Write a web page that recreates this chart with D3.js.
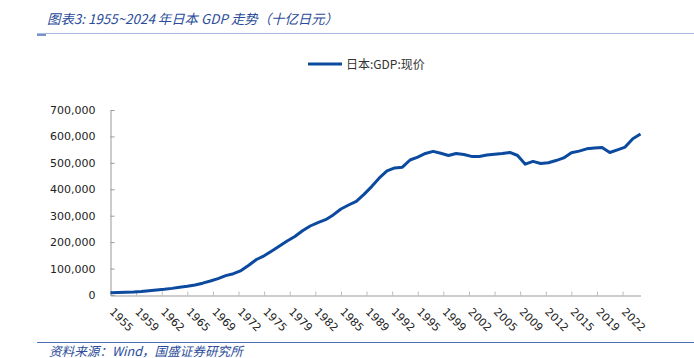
<!DOCTYPE html>
<html>
<head>
<meta charset="utf-8">
<script src="https://cdn.jsdelivr.net/npm/d3@7/dist/d3.min.js"></script>
<style>
  html, body { margin: 0; padding: 0; background: #fff; }
  svg { display: block; }
</style>
</head>
<body>
<svg id="chart" width="694" height="358"></svg>
<script>
// ---- data (billion yen, nominal GDP) ----
const years = d3.range(1955, 2025);
const gdp = [
  8370, 9422, 10858, 11522, 12996, 16010, 19337, 21627, 25059, 29541,
  32866, 38170, 44731, 52775, 62066, 73345, 80701, 92394, 112498, 134244,
  148327, 166573, 185622, 204404, 221547, 242839, 261068, 274087, 285058, 302975,
  325402, 340560, 354170, 380743, 410122, 442781, 469422, 480783, 483712, 510916,
  521614, 535562, 543545, 536497, 528070, 535418, 531654, 524479, 523969, 529401,
  532516, 535170, 539282, 527824, 494938, 505531, 497449, 500475, 508701, 518811,
  538032, 544365, 553073, 556630, 557911, 539082, 549379, 559710, 591482, 609289
];
const yTicks = [0, 100000, 200000, 300000, 400000, 500000, 600000, 700000];
const seriesName = "日本:GDP:现价";
const titleText = "图表3:  1955~2024 年日本 GDP 走势（十亿日元）";
const sourceText = "资料来源：Wind，国盛证券研究所";

// x tick dates: every 40 months starting Dec 1955
const xTickDates = d3.range(21).map(k => {
  const m = 11 + 40 * k;
  return new Date(1955 + Math.floor(m / 12), (m % 12) + 1, 0);
});

const data = years.map((y, i) => ({ date: new Date(y, 11, 31), value: gdp[i] }));

const svg = d3.select("#chart");
const blue = "#0B4A9E";
const axisFont = "'DejaVu Sans', Verdana, sans-serif";
const cjkFont = "'Noto Sans CJK SC', 'Noto Sans', sans-serif";

const x = d3.scaleTime()
  .domain([new Date(1955, 11, 31), new Date(2024, 11, 31)])
  .range([110.5, 640.5]);
const y = d3.scaleLinear().domain([0, 700000]).range([295, 110]);

// title
svg.append("text")
  .attr("x", 47).attr("y", 23.5)
  .attr("font-family", cjkFont)
  .attr("font-style", "italic")
  .attr("font-size", 13.4)
  .attr("fill", "#2A4C9A")
  .text(titleText);
svg.append("line").attr("x1", 37).attr("x2", 694).attr("y1", 33.5).attr("y2", 33.5)
  .attr("stroke", "#A9BCE0").attr("stroke-width", 1);
svg.append("line").attr("x1", 37).attr("x2", 46).attr("y1", 35).attr("y2", 35)
  .attr("stroke", "#4A6FB5").attr("stroke-width", 1.5);

// legend
svg.append("line").attr("x1", 308).attr("x2", 342).attr("y1", 64).attr("y2", 64)
  .attr("stroke", blue).attr("stroke-width", 3);
svg.append("text").attr("x", 346).attr("y", 68.5)
  .attr("font-family", cjkFont).attr("font-size", 12).attr("fill", "#333")
  .text(seriesName);

// y axis
const yAxis = d3.axisLeft(y).tickValues(yTicks).tickFormat(d3.format(","))
  .tickSizeInner(-4).tickSizeOuter(0).tickPadding(15);
const gy = svg.append("g").attr("transform", "translate(110.5,0)").call(yAxis);
gy.select(".domain").attr("stroke", "#999");
gy.selectAll(".tick line").attr("stroke", "#999");
gy.selectAll(".tick text").attr("font-family", axisFont).attr("font-size", 11).attr("fill", "#222");

// x axis
const xAxis = d3.axisBottom(x).tickValues(xTickDates).tickFormat(d3.timeFormat("%Y"))
  .tickSizeInner(-4).tickSizeOuter(0).tickPadding(0);
const gx = svg.append("g").attr("transform", "translate(0,295.5)").call(xAxis);
gx.select(".domain").attr("stroke", "#999");
gx.selectAll(".tick line").attr("stroke", "#bbb");
gx.selectAll(".tick text")
  .attr("font-family", axisFont).attr("font-size", 11).attr("fill", "#222")
  .attr("text-anchor", "start")
  .attr("y", 0).attr("dy", 0)
  .attr("transform", "translate(-2,17) rotate(45)");

// line
const line = d3.line().x(d => x(d.date)).y(d => y(d.value));
svg.append("path").datum(data)
  .attr("fill", "none").attr("stroke", blue).attr("stroke-width", 3)
  .attr("stroke-linejoin", "round")
  .attr("d", line);

// source
svg.append("line").attr("x1", 37).attr("x2", 694).attr("y1", 342.5).attr("y2", 342.5)
  .attr("stroke", "#4A6FB5").attr("stroke-width", 1);
svg.append("text").attr("x", 49).attr("y", 355.5)
  .attr("font-family", cjkFont).attr("font-style", "italic")
  .attr("font-size", 12.6).attr("fill", "#2A4C9A")
  .text(sourceText);
</script>
</body>
</html>
